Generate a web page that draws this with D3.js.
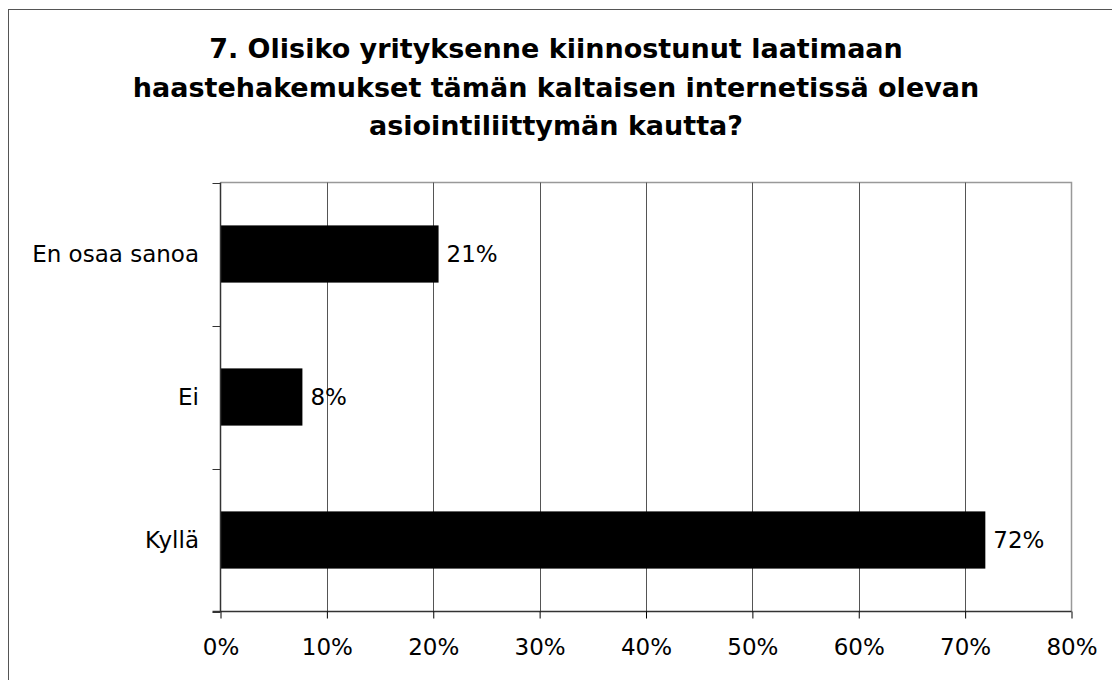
<!DOCTYPE html>
<html>
<head>
<meta charset="utf-8">
<script src="https://cdn.jsdelivr.net/npm/d3@7"></script>
<style>
  body { margin: 0; background: #fff; }
  svg { display: block; font-family: "DejaVu Sans", Verdana, sans-serif; }
  .title { font-weight: bold; font-size: 27px; fill: #000; }
  .label { font-size: 23px; fill: #000; }
</style>
</head>
<body>
<div id="chart"></div>
<script>
// ──── Data ────
const categories = ["En osaa sanoa", "Ei", "Kyllä"];
const values = [20.5, 7.7, 71.9];
const valueLabels = ["21%", "8%", "72%"];
const xTicks = [0, 10, 20, 30, 40, 50, 60, 70, 80];
const titleLines = [
    "7. Olisiko yrityksenne kiinnostunut laatimaan",
    "haastehakemukset tämän kaltaisen internetissä olevan",
    "asiointiliittymän kautta?"
];

const W = 1112, H = 680;
const plot = { left: 220.5, right: 1071.5, top: 182.5, bottom: 611.5 };

const svg = d3.select("#chart")
    .append("svg")
    .attr("width", W)
    .attr("height", H);

// Outer frame
svg.append("rect")
    .attr("x", 8.5).attr("y", 9.5)
    .attr("width", W).attr("height", H)
    .attr("fill", "none")
    .attr("stroke", "#555")
    .attr("stroke-width", 1);

// Title
svg.append("text")
    .attr("class", "title")
    .attr("text-anchor", "middle")
    .selectAll("tspan")
    .data(titleLines)
    .join("tspan")
    .attr("x", 556)
    .attr("y", (d, i) => 58 + i * 38.5)
    .text(d => d);

// ──── Scales ────
const x = d3.scaleLinear()
    .domain([0, 80])
    .range([plot.left, plot.right]);

const y = d3.scaleBand()
    .domain(categories)
    .range([plot.top, plot.bottom])
    .paddingInner(0.6)
    .paddingOuter(0.3);

const yEdges = d3.scaleBand()
    .domain(categories)
    .range([plot.top, plot.bottom]);

// Plot area border (top, right)
svg.append("path")
    .attr("d", `M${plot.left},${plot.top}H${plot.right}V${plot.bottom}`)
    .attr("fill", "none")
    .attr("stroke", "#999")
    .attr("stroke-width", 1.5);

// Vertical gridlines
svg.append("g")
    .selectAll("line")
    .data(xTicks.slice(1, -1))
    .join("line")
    .attr("x1", d => Math.round(x(d)) + 0.5)
    .attr("x2", d => Math.round(x(d)) + 0.5)
    .attr("y1", plot.top)
    .attr("y2", plot.bottom)
    .attr("stroke", "#555")
    .attr("stroke-width", 1);

// Bars
svg.append("g")
    .selectAll("rect")
    .data(categories)
    .join("rect")
    .attr("x", x(0))
    .attr("y", d => y(d))
    .attr("width", (d, i) => x(values[i]) - x(0))
    .attr("height", y.bandwidth())
    .attr("fill", "#000");

// Value labels
svg.append("g")
    .selectAll("text")
    .data(categories)
    .join("text")
    .attr("class", "label")
    .attr("x", (d, i) => x(values[i]) + 8)
    .attr("y", d => y(d) + y.bandwidth() / 2)
    .attr("dy", "0.36em")
    .text((d, i) => valueLabels[i]);

// X axis
const xAxis = svg.append("g")
    .attr("transform", `translate(0,${plot.bottom})`)
    .call(d3.axisBottom(x)
        .tickValues(xTicks)
        .tickSize(7)
        .tickPadding(20)
        .tickFormat(d => d + "%"));
xAxis.select(".domain").attr("d", `M${plot.left - 8},0H${plot.right}`).attr("stroke", "#333").attr("stroke-width", 1.5);
xAxis.selectAll(".tick line").attr("stroke", "#000");
xAxis.selectAll(".tick text").attr("class", "label");
xAxis.attr("font-family", null).attr("font-size", null);

// Y axis (category labels)
svg.append("g")
    .selectAll("text")
    .data(categories)
    .join("text")
    .attr("class", "label")
    .attr("x", 199)
    .attr("y", d => y(d) + y.bandwidth() / 2)
    .attr("dy", "0.36em")
    .attr("text-anchor", "end")
    .text(d => d);

// Y axis line + band boundary ticks
svg.append("line")
    .attr("x1", plot.left).attr("x2", plot.left)
    .attr("y1", plot.top).attr("y2", plot.bottom)
    .attr("stroke", "#333").attr("stroke-width", 1.5);

svg.append("g")
    .selectAll("line")
    .data(categories.map(c => yEdges(c)).concat([plot.bottom]))
    .join("line")
    .attr("x1", plot.left - 8)
    .attr("x2", plot.left)
    .attr("y1", d => Math.round(d) + 0.5)
    .attr("y2", d => Math.round(d) + 0.5)
    .attr("stroke", "#333");
</script>
</body>
</html>
